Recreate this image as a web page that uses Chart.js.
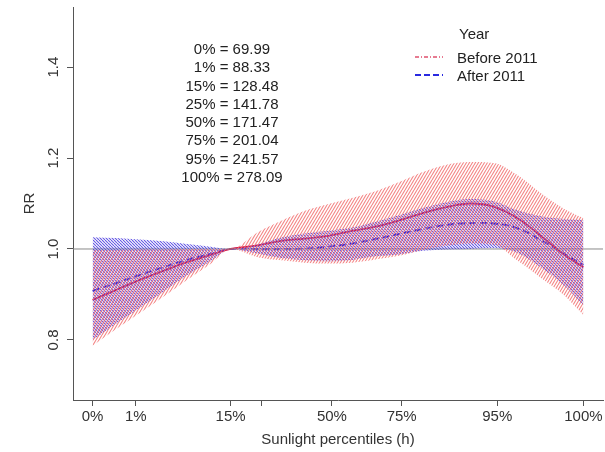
<!DOCTYPE html>
<html lang="en">
<head>
<meta charset="UTF-8" />
<title>RR by sunlight percentiles</title>
<script src="https://cdn.jsdelivr.net/npm/chart.js"></script>
<style>
    body { margin: 0; background: #fff; font-family: "Liberation Sans", Arial, sans-serif; color: #222; }
    #wrap { position: relative; width: 605px; height: 452px; }
    #notes { position: absolute; left: 132px; top: 40px; width: 200px; text-align: center; font-size: 15px; line-height: 18.3px; }
    .lg { position: absolute; font-size: 15px; line-height: 18px; white-space: nowrap; }
    .lg-line { position: absolute; }
</style>
</head>
<body>
<div id="wrap">
    <canvas id="rrChart" width="605" height="452"></canvas>
    <div id="notes"></div>
    <div class="lg" style="left:459px; top:25px;">Year</div>
    <svg class="lg-line" style="left:414px; top:53px;" width="30" height="8">
        <line x1="1" y1="4" x2="29" y2="4" stroke="#e0506e" stroke-width="1.3" stroke-dasharray="4 2 1 2" />
    </svg>
    <div class="lg" style="left:457px; top:49px;">Before 2011</div>
    <svg class="lg-line" style="left:414px; top:71px;" width="30" height="8">
        <line x1="1" y1="4" x2="29" y2="4" stroke="#2a2ae0" stroke-width="2" stroke-dasharray="6 3" />
    </svg>
    <div class="lg" style="left:457px; top:67px;">After 2011</div>
</div>

<script>
    // sunlight hours at which the curves were read
    const hours = [69.99, 80, 90, 100, 110, 120, 128.48, 140, 150, 160, 170, 180, 190, 200, 210, 220, 230, 240, 250, 260, 270, 278.09];

    // Before 2011
    const beforeRR   = [0.888, 0.910, 0.932, 0.952, 0.971, 0.987, 1.000, 1.008, 1.018, 1.023, 1.029, 1.040, 1.049, 1.063, 1.079, 1.092, 1.100, 1.093, 1.068, 1.029, 0.987, 0.960];
    const beforeHigh = [0.998, 0.998, 0.999, 0.999, 1.000, 1.000, 1.000, 1.037, 1.062, 1.084, 1.099, 1.112, 1.127, 1.147, 1.169, 1.185, 1.191, 1.189, 1.163, 1.123, 1.088, 1.068];
    const beforeLow  = [0.787, 0.824, 0.859, 0.895, 0.932, 0.967, 1.000, 0.982, 0.975, 0.970, 0.968, 0.970, 0.977, 0.985, 0.998, 1.007, 1.012, 1.010, 0.975, 0.937, 0.898, 0.855];

    // After 2011
    const afterRR   = [0.908, 0.925, 0.943, 0.960, 0.976, 0.989, 1.000, 1.000, 1.000, 1.001, 1.005, 1.012, 1.022, 1.033, 1.044, 1.053, 1.057, 1.056, 1.046, 1.020, 0.989, 0.965];
    const afterHigh = [1.026, 1.024, 1.021, 1.017, 1.011, 1.005, 1.000, 1.010, 1.025, 1.034, 1.040, 1.047, 1.060, 1.074, 1.090, 1.103, 1.110, 1.105, 1.085, 1.072, 1.066, 1.064];
    const afterLow  = [0.800, 0.836, 0.871, 0.906, 0.942, 0.973, 1.000, 0.990, 0.980, 0.975, 0.973, 0.976, 0.984, 0.988, 0.996, 0.999, 1.000, 1.002, 0.992, 0.960, 0.920, 0.877];

    // percentile ticks
    const pctNames  = ['0%', '1%', '15%', '25%', '50%', '75%', '95%', '100%'];
    const pctHours  = [69.99, 88.33, 128.48, 141.78, 171.47, 201.04, 241.57, 278.09];
    const pctLabels = ['0%', '1%', '15%', '', '50%', '75%', '95%', '100%'];

    const yTicks = [0.8, 1.0, 1.2, 1.4];
    const xMin = 61.67, xMax = 286.41;
    const yMin = 0.668, yMax = 1.532;

    document.getElementById('notes').innerHTML =
        pctNames.map((n, i) => `${n} = ${pctHours[i].toFixed(2)}`).join('<br>');

    function hatch(color, w, h, forward) {
        const c = document.createElement('canvas');
        c.width = w; c.height = h;
        const g = c.getContext('2d');
        g.strokeStyle = color;
        g.lineWidth = 1.1;
        for (let k = -1; k <= 1; k++) {
            g.beginPath();
            if (forward) { g.moveTo(k * w, h); g.lineTo(k * w + w, 0); }
            else { g.moveTo(k * w, 0); g.lineTo(k * w + w, h); }
            g.stroke();
        }
        return g.createPattern(c, 'repeat');
    }

    const pts = arr => arr.map((v, i) => ({ x: hours[i], y: v }));
    const ctx = document.getElementById('rrChart').getContext('2d');
    const redHatch = hatch('rgba(242,112,112,0.85)', 3, 5, true);
    const blueHatch = hatch('rgba(72,58,222,0.85)', 3, 3, false);

    const band = { pointRadius: 0, borderWidth: 0, cubicInterpolationMode: 'monotone' };

    const yLabelPlugin = {
        id: 'yLabels',
        afterDraw(chart) {
            const c = chart.ctx, y = chart.scales.y;
            c.save();
            c.font = '15px "Liberation Sans", Arial, sans-serif';
            c.fillStyle = '#333';
            c.textAlign = 'center';
            c.textBaseline = 'middle';
            yTicks.forEach(v => {
                c.save();
                c.translate(54, y.getPixelForValue(v));
                c.rotate(-Math.PI / 2);
                c.fillText(v.toFixed(1), 0, 0);
                c.restore();
            });
            c.restore();
        }
    };

    new Chart(ctx, {
        type: 'line',
        data: {
            datasets: [
                { ...band, label: 'Before high', data: pts(beforeHigh), fill: '+1', backgroundColor: redHatch },
                { ...band, label: 'Before low', data: pts(beforeLow), fill: false },
                { ...band, label: 'After high', data: pts(afterHigh), fill: '+1', backgroundColor: blueHatch },
                { ...band, label: 'After low', data: pts(afterLow), fill: false },
                { label: 'ref', data: [{ x: xMin, y: 1 }, { x: xMax, y: 1 }], borderColor: '#8a8a8a', borderWidth: 1, pointRadius: 0, fill: false },
                { label: 'Before 2011', data: pts(beforeRR), borderColor: '#d3184c', borderWidth: 1.8, pointRadius: 0, fill: false, tension: 0.4 },
                { label: 'After 2011', data: pts(afterRR), borderColor: '#2626dc', borderWidth: 1.8, borderDash: [7, 4], pointRadius: 0, fill: false, tension: 0.4 }
            ]
        },
        options: {
            responsive: false,
            animation: false,
            layout: { padding: { left: 0, top: 7, right: 2, bottom: 0 } },
            plugins: { legend: { display: false }, tooltip: { enabled: false } },
            scales: {
                x: {
                    type: 'linear',
                    min: xMin, max: xMax,
                    afterBuildTicks: s => { s.ticks = pctHours.map(v => ({ value: v })); },
                    afterFit: s => { s.height = 52; },
                    ticks: {
                        autoSkip: false, maxRotation: 0, padding: 2, color: '#333',
                        font: { family: '"Liberation Sans", Arial, sans-serif', size: 15 },
                        callback: (v, i) => pctLabels[i]
                    },
                    grid: { drawOnChartArea: false, drawTicks: true, tickLength: 6, color: '#555' },
                    border: { display: true, color: '#555', width: 1 },
                    title: {
                        display: true, text: 'Sunlight percentiles (h)', color: '#333',
                        font: { family: '"Liberation Sans", Arial, sans-serif', size: 15 },
                        padding: { top: 0, bottom: 3 }
                    }
                },
                y: {
                    type: 'linear',
                    min: yMin, max: yMax,
                    afterBuildTicks: s => { s.ticks = yTicks.map(v => ({ value: v })); },
                    afterFit: s => { s.width = 73; },
                    ticks: { display: false },
                    grid: { drawOnChartArea: false, drawTicks: true, tickLength: 6, color: '#555' },
                    border: { display: true, color: '#555', width: 1 },
                    title: {
                        display: true, text: 'RR', color: '#333',
                        font: { family: '"Liberation Sans", Arial, sans-serif', size: 15 },
                        padding: { top: 21, bottom: 0 }
                    }
                }
            }
        },
        plugins: [yLabelPlugin]
    });
</script>
</body>
</html>
